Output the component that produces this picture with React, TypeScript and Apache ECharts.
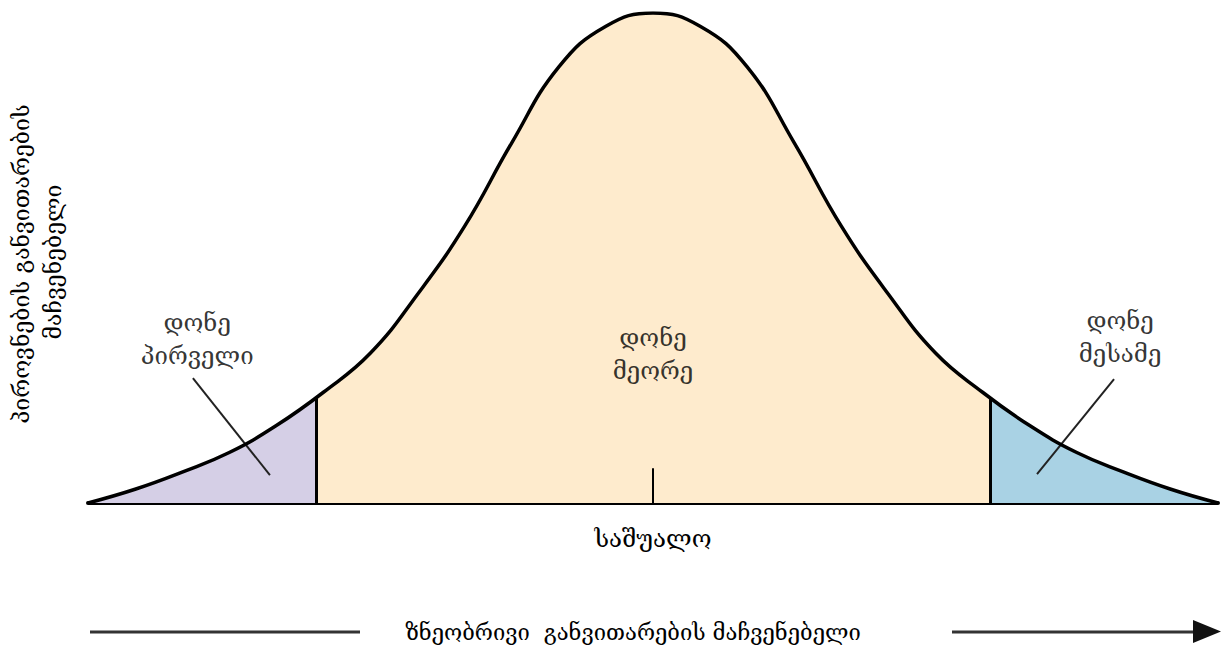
import React, { useEffect, useRef } from "react";
import * as echarts from "echarts";

// Curve: x in standard units around the mean, y as share of peak height
const curveX = [-3, -2.75, -2.5, -2.25, -2, -1.75, -1.5, -1.25, -1, -0.75, -0.5, -0.25, 0, 0.25, 0.5, 0.75, 1, 1.25, 1.5, 1.75, 2, 2.25, 2.5, 2.75, 3];
const curveY = [0, 0.028, 0.063, 0.103, 0.158, 0.226, 0.306, 0.426, 0.565, 0.735, 0.89, 0.973, 1.0, 0.973, 0.89, 0.735, 0.565, 0.426, 0.306, 0.226, 0.158, 0.103, 0.063, 0.028, 0];

const cutoffs = [-1.79, 1.79];
const cutoffHeights = [0.214, 0.214];
const meanTickHeight = 0.071;
const levelNames = ["დონე\nპირველი", "დონე\nმეორე", "დონე\nმესამე"];
const levelColors = ["#d5cfe6", "#feebcd", "#a9d2e4"];
const meanLabel = "საშუალო";
const xTitle = "ზნეობრივი  განვითარების მაჩვენებელი";
const yTitleLines = ["პიროვნების განვითარების", "მაჩვენებელი"];

const FONT = "'DejaVu Serif', 'DejaVu Sans', serif";

export default function App() {
  const ref = useRef<HTMLDivElement>(null);
  useEffect(() => {
    if (!ref.current) return;
    const chart = echarts.init(ref.current, undefined, { renderer: "svg" });
    const pts = curveX.map((x, i) => [x, curveY[i]]);
    const smooth = 0.45;
    const labelFont = { fontFamily: FONT, fontSize: 24, color: "#000", lineHeight: 33 };
    const textStyle = (text: string, size: number) => ({
      text,
      font: `${size}px ${FONT}`,
      fill: "#000",
      align: "center",
      verticalAlign: "middle",
      textAlign: "center",
      textVerticalAlign: "middle",
    });
    chart.setOption({
      animation: false,
      backgroundColor: "#ffffff",
      grid: { left: 88, right: 3, top: 13, bottom: 143 },
      visualMap: {
        type: "piecewise",
        show: false,
        dimension: 0,
        seriesIndex: 0,
        pieces: [
          { lte: cutoffs[0], color: levelColors[0] },
          { gt: cutoffs[0], lte: cutoffs[1], color: levelColors[1] },
          { gt: cutoffs[1], color: levelColors[2] },
        ],
      },
      xAxis: {
        type: "value",
        min: -3,
        max: 3,
        interval: 3,
        axisLine: { show: true, onZero: false, lineStyle: { color: "#000", width: 4 } },
        axisTick: { show: false },
        splitLine: { show: false },
        axisLabel: {
          show: true,
          margin: 24,
          fontFamily: FONT,
          fontSize: 24,
          color: "#000",
          formatter: (v: number) => (v === 0 ? meanLabel : ""),
        },
      },
      yAxis: {
        type: "value",
        min: 0,
        max: 1,
        show: false,
        splitLine: { show: false },
      },
      series: [
        {
          type: "line",
          data: pts,
          smooth,
          showSymbol: false,
          symbol: "none",
          lineStyle: { width: 0 },
          areaStyle: { opacity: 1 },
          silent: true,
          z: 1,
        },
        {
          type: "line",
          data: pts,
          smooth,
          showSymbol: false,
          symbol: "none",
          lineStyle: { color: "#000", width: 3.5 },
          itemStyle: { color: "#000" },
          z: 5,
          markLine: {
            silent: true,
            symbol: ["none", "none"],
            label: { show: false },
            data: [
              [
                { coord: [cutoffs[0], 0], lineStyle: { color: "#000", width: 3, type: "solid" } },
                { coord: [cutoffs[0], cutoffHeights[0]] },
              ],
              [
                { coord: [cutoffs[1], 0], lineStyle: { color: "#000", width: 3, type: "solid" } },
                { coord: [cutoffs[1], cutoffHeights[1]] },
              ],
              [
                { coord: [0, 0], lineStyle: { color: "#000", width: 2, type: "solid" } },
                { coord: [0, meanTickHeight] },
              ],
              [
                { coord: [-2.443, 0.255], lineStyle: { color: "#222", width: 2, type: "solid" } },
                { coord: [-2.034, 0.057] },
              ],
              [
                { coord: [2.448, 0.253], lineStyle: { color: "#222", width: 2, type: "solid" } },
                { coord: [2.039, 0.059] },
              ],
            ],
          },
        },
        {
          type: "scatter",
          symbolSize: 1,
          itemStyle: { color: "rgba(0,0,0,0)" },
          silent: true,
          z: 6,
          data: [
            [-2.42, 0.333, levelNames[0]],
            [0, 0.304, levelNames[1]],
            [2.48, 0.338, levelNames[2]],
          ],
          label: {
            show: true,
            position: "inside",
            align: "center",
            verticalAlign: "middle",
            formatter: (p: any) => p.data[2],
            ...labelFont,
          },
        },
      ],
      graphic: [
        { type: "text", x: 21, y: 264, rotation: Math.PI / 2, style: textStyle(yTitleLines[0], 23) },
        { type: "text", x: 53, y: 262, rotation: Math.PI / 2, style: textStyle(yTitleLines[1], 23) },
        { type: "text", x: 633, y: 632, style: textStyle(xTitle, 22) },
        {
          type: "line",
          shape: { x1: 90, y1: 632, x2: 360, y2: 632 },
          style: { stroke: "#333", lineWidth: 3 },
        },
        {
          type: "line",
          shape: { x1: 952, y1: 632, x2: 1200, y2: 632 },
          style: { stroke: "#333", lineWidth: 3 },
        },
        {
          type: "polygon",
          shape: { points: [[1193, 620], [1221, 631.5], [1193, 643]] },
          style: { fill: "#111" },
        },
      ],
    });
    return () => chart.dispose();
  }, []);
  return (
    <div
      ref={ref}
      style={{ position: "fixed", left: 0, top: 0, width: 1221, height: 646, background: "#fff" }}
    />
  );
}
